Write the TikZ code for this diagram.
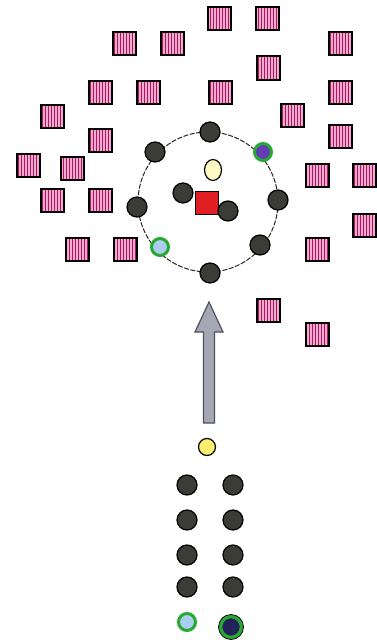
\documentclass[tikz,border=0pt]{standalone}
\usetikzlibrary{patterns,shapes.geometric}
\definecolor{sqpink}{RGB}{242,170,212}
\definecolor{sqdark}{RGB}{170,25,90}
\definecolor{dkgray}{RGB}{60,60,54}
\definecolor{ringgreen}{RGB}{40,170,50}
\definecolor{violetin}{RGB}{100,60,180}
\definecolor{lightblue}{RGB}{170,205,240}
\definecolor{navyin}{RGB}{35,35,90}
\definecolor{paleyellow}{RGB}{255,250,195}
\definecolor{brightyellow}{RGB}{250,240,110}
\definecolor{redsq}{RGB}{225,30,35}
\definecolor{arrowfill}{RGB}{165,168,178}
\definecolor{arrowline}{RGB}{80,80,100}
\begin{document}
\begin{tikzpicture}[x=1pt,y=-1pt,
  sq/.style={rectangle, draw=black, line width=2pt, minimum size=23pt, inner sep=0pt,
    preaction={fill=sqpink}, pattern=vertical lines, pattern color=sqdark},
  dk/.style={circle, draw=black, line width=1.2pt, fill=dkgray, minimum size=20pt, inner sep=0pt},
  grviolet/.style={circle, draw=ringgreen, line width=3pt, fill=violetin, minimum size=17pt, inner sep=0pt},
  grblue/.style={circle, draw=ringgreen, line width=3pt, fill=lightblue, minimum size=17pt, inner sep=0pt},
  grnavy/.style={circle, draw=ringgreen, line width=3.5pt, fill=navyin, minimum size=21pt, inner sep=0pt},
  ringstyle/.style={circle, draw=black!85, line width=1pt, dash pattern=on 5pt off 1.5pt, minimum size=140pt, inner sep=0pt},
  redbox/.style={rectangle, draw=black, line width=1.5pt, fill=redsq, minimum size=23pt, inner sep=0pt},
  paleegg/.style={ellipse, draw=black, line width=1.2pt, fill=paleyellow, minimum width=17pt, minimum height=21pt, inner sep=0pt},
  yel/.style={circle, draw=black, line width=1.2pt, fill=brightyellow, minimum size=17pt, inner sep=0pt}
]
\useasboundingbox (0,0) rectangle (376,642);
\fill[white] (0,0) rectangle (376,642);

% pink squares
\foreach \n/\x/\y in {s1/219/19, s2/267/19, s3/124/44, s4/172/44, s5/340/44, s6/268/68,
  s7/100/92, s8/148/92, s9/220/92, s10/340/92, s11/52/116, s12/292/115, s13/100/140,
  s14/340/136, s15/28/165, s16/72/168, s17/317/175, s18/364/175, s19/52/200, s20/100/200,
  s21/364/225, s22/77/249, s23/125/249, s24/317/249, s25/268/310, s26/317/334}
  \node[sq] (\n) at (\x,\y) {};

% ring
\node[ringstyle] (ring) at (208,202) {};
\node[dk] (rt) at (210,132) {};
\node[dk] (rul) at (155,152) {};
\node[grviolet] (rur) at (263,152) {};
\node[dk] (rl) at (137,207) {};
\node[dk] (rr) at (278,200) {};
\node[grblue] (rll) at (160,247) {};
\node[dk] (rlr) at (260,245) {};
\node[dk] (rb) at (210,273) {};

% inner
\node[paleegg] (egg) at (213,170) {};
\node[dk] (in1) at (183,193) {};
\node[redbox] (red) at (207,203) {};
\node[dk] (in2) at (228,211) {};

% arrow
\coordinate (atip) at (209,302);
\path[draw=arrowline, line width=1.2pt, fill=arrowfill, line join=miter]
  (atip) -- (223,332) -- (214.5,332) -- (214.5,423) -- (203.5,423) -- (203.5,332) -- (195,332) -- cycle;

% bottom group
\node[yel] (y) at (207,447) {};
\node[dk] (a1) at (187,485) {};
\node[dk] (b1) at (233,485) {};
\node[dk] (a2) at (187,520) {};
\node[dk] (b2) at (233,520) {};
\node[dk] (a3) at (187,555) {};
\node[dk] (b3) at (233,555) {};
\node[dk] (a4) at (187,587) {};
\node[dk] (b4) at (233,587) {};
\node[grblue] (a5) at (187,622) {};
\node[grnavy] (b5) at (231,627) {};
\draw[black, line width=0.8pt] (b5) circle[radius=12.5pt];
\end{tikzpicture}
\end{document}
